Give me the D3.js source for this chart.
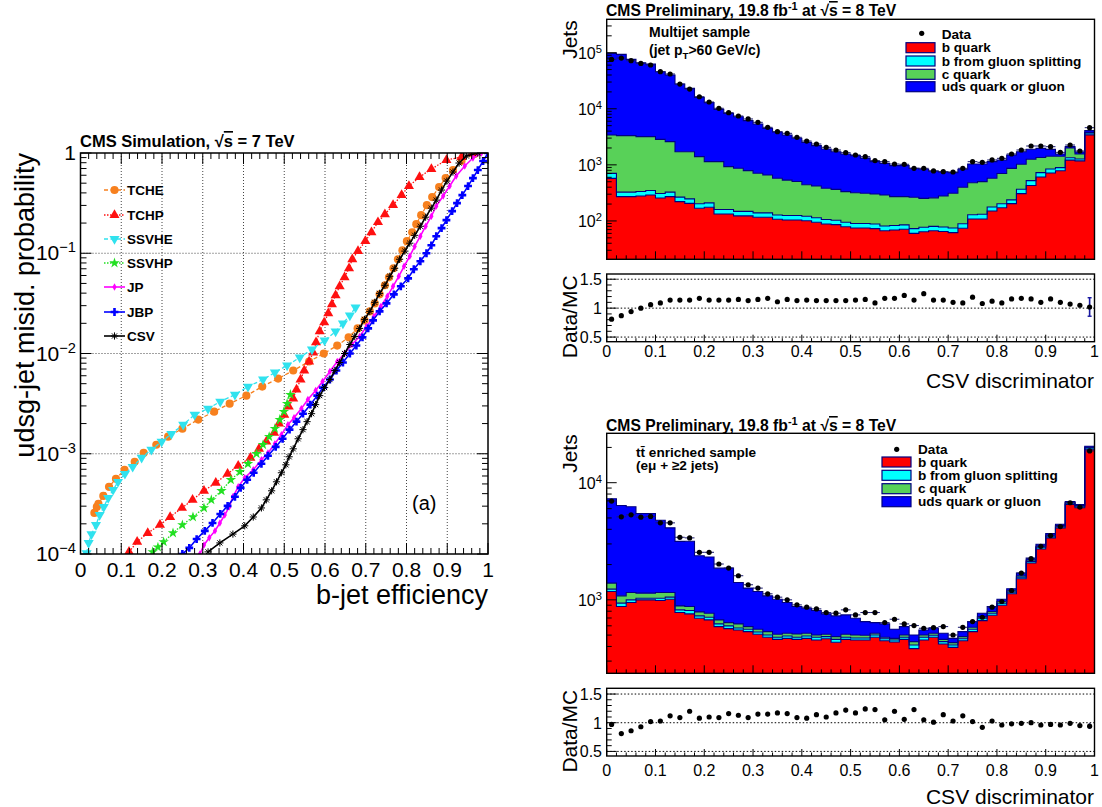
<!DOCTYPE html>
<html><head><meta charset="utf-8">
<script src="https://cdn.jsdelivr.net/npm/d3@7"></script>
<style>
body{margin:0;background:#fff}
svg{display:block}
text{font-family:"Liberation Sans",Arial,Helvetica,sans-serif;fill:#000}
</style>
</head><body>
<svg id="c" width="1102" height="807"></svg>
<script>
// ---------- (a) light-jet mistag probability vs b-jet efficiency ----------
const tcheEff = [0.034,0.040,0.044,0.056,0.070,0.087,0.108,0.133,0.155,0.186,0.215,0.250,0.289,0.328,0.366,0.407,0.446,0.485,0.522,0.561,0.597,0.630,0.658,0.680,0.697,0.710,0.722,0.734,0.747,0.757,0.768,0.779,0.790,0.801,0.814,0.824,0.836,0.850,0.863,0.880,0.896,0.914,0.935,0.967];
const tcheMis = [2.57e-4,2.95e-4,3.16e-4,3.80e-4,4.68e-4,5.62e-4,6.92e-4,8.32e-4,1.02e-3,1.23e-3,1.48e-3,1.78e-3,2.19e-3,2.63e-3,3.16e-3,3.80e-3,4.68e-3,5.62e-3,6.76e-3,8.32e-3,1.00e-2,1.20e-2,1.45e-2,1.78e-2,2.14e-2,2.63e-2,3.16e-2,3.89e-2,4.79e-2,5.75e-2,7.08e-2,8.71e-2,0.107,0.132,0.162,0.195,0.240,0.302,0.363,0.457,0.562,0.676,0.832,0.977];

const tchpEff = [0.119,0.139,0.165,0.195,0.220,0.249,0.275,0.303,0.332,0.361,0.387,0.417,0.438,0.456,0.475,0.487,0.500,0.511,0.522,0.530,0.540,0.549,0.561,0.571,0.578,0.587,0.598,0.608,0.617,0.626,0.636,0.648,0.659,0.667,0.681,0.699,0.714,0.730,0.747,0.767,0.788,0.806,0.832,0.861,0.898,0.935,0.963];
const tchpMis = [1.05e-4,1.32e-4,1.62e-4,1.95e-4,2.34e-4,2.88e-4,3.47e-4,4.27e-4,5.13e-4,6.31e-4,7.59e-4,9.12e-4,1.12e-3,1.32e-3,1.62e-3,2.00e-3,2.45e-3,2.95e-3,3.55e-3,4.37e-3,5.50e-3,6.76e-3,8.32e-3,1.02e-2,1.29e-2,1.66e-2,2.04e-2,2.51e-2,3.09e-2,3.80e-2,4.68e-2,5.75e-2,7.08e-2,8.71e-2,0.105,0.132,0.162,0.204,0.245,0.302,0.380,0.468,0.575,0.692,0.851,0.912,1.0];

const ssvheEff = [0.015,0.020,0.027,0.038,0.047,0.057,0.068,0.080,0.092,0.109,0.128,0.150,0.174,0.199,0.223,0.252,0.280,0.313,0.343,0.379,0.411,0.448,0.477,0.507,0.538,0.568,0.599,0.626,0.644,0.661,0.675];
const ssvheMis = [1.02e-4,1.29e-4,1.58e-4,1.95e-4,2.45e-4,2.95e-4,3.63e-4,4.37e-4,5.25e-4,6.31e-4,7.41e-4,9.12e-4,1.10e-3,1.32e-3,1.58e-3,1.95e-3,2.45e-3,2.82e-3,3.31e-3,3.89e-3,4.68e-3,5.50e-3,6.46e-3,7.59e-3,9.12e-3,1.10e-2,1.35e-2,1.66e-2,2.00e-2,2.40e-2,2.88e-2];

const ssvhpEff = [0.177,0.190,0.204,0.227,0.250,0.276,0.303,0.321,0.346,0.369,0.391,0.411,0.432,0.448,0.463,0.477,0.489,0.499,0.507,0.515];
const ssvhpMis = [1.05e-4,1.17e-4,1.32e-4,1.62e-4,1.95e-4,2.34e-4,2.88e-4,3.47e-4,4.27e-4,5.50e-4,6.61e-4,7.94e-4,1.00e-3,1.23e-3,1.48e-3,1.78e-3,2.19e-3,2.63e-3,3.16e-3,3.89e-3];

const jpEff = [0.293,0.303,0.316,0.330,0.342,0.354,0.365,0.374,0.387,0.403,0.424,0.444,0.460,0.477,0.493,0.509,0.524,0.542,0.558,0.577,0.594,0.612,0.630,0.648,0.666,0.685,0.702,0.720,0.737,0.753,0.767,0.781,0.794,0.808,0.820,0.834,0.847,0.861,0.873,0.890,0.906,0.922,0.943,0.963,0.984];
const jpMis = [1.00e-4,1.23e-4,1.45e-4,1.70e-4,2.04e-4,2.45e-4,2.95e-4,3.72e-4,4.68e-4,5.75e-4,6.92e-4,8.71e-4,1.02e-3,1.26e-3,1.55e-3,1.95e-3,2.29e-3,2.82e-3,3.47e-3,4.27e-3,5.25e-3,6.61e-3,8.32e-3,1.00e-2,1.23e-2,1.48e-2,1.86e-2,2.34e-2,2.95e-2,3.72e-2,4.68e-2,5.89e-2,7.41e-2,9.33e-2,0.117,0.148,0.186,0.234,0.295,0.372,0.468,0.589,0.741,0.891,1.0];

const jbpEff = [0.250,0.267,0.285,0.305,0.324,0.343,0.361,0.379,0.393,0.409,0.425,0.444,0.460,0.479,0.496,0.513,0.530,0.546,0.564,0.581,0.595,0.612,0.628,0.644,0.661,0.677,0.692,0.706,0.718,0.734,0.751,0.769,0.786,0.804,0.818,0.834,0.849,0.861,0.873,0.886,0.898,0.912,0.924,0.937,0.951,0.963,0.975,0.988,1.0];
const jbpMis = [1.00e-4,1.15e-4,1.41e-4,1.70e-4,2.04e-4,2.51e-4,3.02e-4,3.72e-4,4.57e-4,5.50e-4,6.46e-4,7.94e-4,9.55e-4,1.17e-3,1.41e-3,1.74e-3,2.09e-3,2.51e-3,3.09e-3,3.80e-3,4.57e-3,5.50e-3,6.76e-3,8.13e-3,1.00e-2,1.20e-2,1.45e-2,1.78e-2,2.14e-2,2.63e-2,3.16e-2,3.89e-2,4.68e-2,5.62e-2,6.92e-2,8.32e-2,0.100,0.120,0.148,0.178,0.214,0.263,0.316,0.380,0.468,0.562,0.676,0.832,1.0];

const csvEff = [0.313,0.342,0.374,0.403,0.424,0.444,0.456,0.469,0.481,0.493,0.504,0.512,0.522,0.534,0.546,0.556,0.567,0.577,0.587,0.599,0.612,0.624,0.636,0.648,0.661,0.673,0.685,0.697,0.710,0.722,0.734,0.747,0.759,0.771,0.783,0.796,0.808,0.820,0.834,0.847,0.861,0.873,0.886,0.899,0.914,0.929,0.947,0.975];
const csvMis = [1.05e-4,1.29e-4,1.58e-4,1.91e-4,2.34e-4,2.88e-4,3.47e-4,4.27e-4,5.25e-4,6.46e-4,7.76e-4,9.33e-4,1.12e-3,1.41e-3,1.74e-3,2.09e-3,2.51e-3,3.09e-3,3.80e-3,4.57e-3,5.50e-3,6.76e-3,8.13e-3,1.00e-2,1.23e-2,1.48e-2,1.78e-2,2.19e-2,2.63e-2,3.24e-2,3.98e-2,4.79e-2,5.89e-2,7.08e-2,8.71e-2,0.105,0.126,0.151,0.186,0.229,0.282,0.339,0.427,0.525,0.646,0.794,0.933,1.0];

const taggerNames = ["TCHE","TCHP","SSVHE","SSVHP","JP","JBP","CSV"];
const effTicks = [0,0.1,0.2,0.3,0.4,0.5,0.6,0.7,0.8,0.9,1];
const misTickExp = [-4,-3,-2,-1,0];

// ---------- CSV discriminator distributions (50 bins of 0.02) ----------
const mjBQuark = [575,271,271,279,290,256,271,221,206,168,175,133,133,123,123,116,116,107,104,104,101,95,88,86,79,75,75,73,67,69,71,60,64,67,65,62,74,108,108,150,172,204,307,428,609,717,783,1215,1180,3430];
const mjBGluon = [130,55,55,56,58,52,55,45,41,34,35,27,27,25,25,23,23,21,21,21,20,19,18,17,16,15,15,15,14,14,14,13,13,13,13,13,15,21,24,27,30,33,60,95,117,128,108,125,90,290];
const mjCQuark = [2700,2990,2990,2850,2840,2540,2270,1450,1470,1200,930,980,770,720,640,570,520,450,410,380,320,305,276,263,238,229,221,215,209,188,186,191,176,178,200,236,310,350,370,400,500,630,660,735,630,575,530,660,290,30];
const mjUds = [93800,90000,72800,63100,59600,42950,37400,25900,21400,14600,11710,8630,7360,6360,5350,4640,3820,3280,2870,2470,2080,1780,1540,1350,1230,1140,1010,840,774,700,700,600,580,520,470,415,435,555,535,565,520,630,690,635,615,470,140,110,140,320];
const mjData = [76000,80300,72000,64500,60300,45800,41700,27600,22500,16400,13200,10200,8510,7430,6580,5730,4670,3910,3650,3100,2660,2355,2055,1840,1650,1500,1400,1190,1140,1035,1023,867,867,778,757,746,867,1140,1109,1222,1306,1563,1840,2168,2168,2110,1671,2259,1766,4603];
const mjRatio = [0.81,0.87,0.94,1.00,1.06,1.09,1.14,1.14,1.14,1.17,1.14,1.14,1.14,1.15,1.13,1.15,1.17,1.11,1.15,1.13,1.14,1.13,1.13,1.13,1.13,1.14,1.15,1.09,1.17,1.17,1.22,1.14,1.25,1.14,1.14,1.10,1.09,1.19,1.08,1.12,1.09,1.16,1.17,1.16,1.10,1.16,1.10,1.07,1.05,1.02];
const mjRatioErr = [0,0,0,0,0,0,0,0,0,0,0,0,0,0,0,0,0,0,0,0,0,0,0,0,0,0,0,0,0.02,0.03,0.03,0.03,0.03,0.03,0.03,0.03,0.03,0.03,0,0,0,0,0,0,0,0,0,0,0,0.16];

const ttBQuark = [1179,877,949,1000,1000,987,1013,779,759,697,674,591,568,553,535,508,479,460,469,460,469,454,466,434,460,454,454,479,448,437,460,383,454,479,420,393,448,535,665,739,900,1126,1514,2063,2718,3378,4115,6521,6105,19310];
const ttBGluon = [55,60,51,33,33,45,41,42,51,32,36,32,31,22,26,24,22,19,22,19,22,25,19,26,19,19,19,22,18,17,19,29,25,19,20,19,18,26,32,30,36,37,50,68,91,113,138,173,205,510];
const ttCQuark = [156,145,156,107,107,124,102,67,67,60,59,51,40,48,30,29,34,29,27,32,27,22,23,25,29,28,25,17,13,15,22,28,22,20,20,19,19,22,23,25,32,31,42,57,56,69,56,89,83,270];
const ttUds = [5900,5310,5070,4320,4320,3630,2960,2270,2290,1590,1550,1190,1230,785,668,618,547,505,431,366,330,309,251,244,236,196,154,121,144,92,90,61,52,54,58,38,50,69,49,83,45,49,87,88,116,119,114,135,128,400];
const ttData = [6970,5110,5320,5080,5150,4540,4540,3420,3380,2545,2545,2022,1868,1606,1345,1259,1126,1054,1000,906,865,837,779,769,821,744,779,779,639,683,623,603,572,579,591,501,583,652,710,865,968,1202,1693,2246,2865,3537,4224,6740,6186,18680];
const ttRatio = [0.97,0.81,0.86,0.93,1.02,1.03,1.12,1.09,1.20,1.08,1.10,1.09,1.16,1.13,1.09,1.15,1.15,1.17,1.16,1.09,1.08,1.14,1.10,1.17,1.22,1.17,1.24,1.23,1.05,1.20,1.06,1.23,1.05,1.01,1.14,1.03,1.12,1.02,0.92,1.03,0.96,0.98,0.99,1.00,0.96,0.97,0.96,0.99,0.95,0.94];
const ttRatioErr = [0.01,0.01,0.01,0.01,0.01,0.01,0.01,0.01,0.01,0.01,0.01,0.01,0.01,0.035,0.035,0.035,0.035,0.035,0.035,0.035,0.035,0.035,0.035,0.035,0.04,0.035,0.04,0.04,0.035,0.04,0.035,0.04,0.035,0.035,0.035,0.035,0.035,0.035,0.035,0.035,0.01,0.01,0.01,0.01,0.01,0.01,0.01,0.01,0.01,0.05];

const csvTicks = [0,0.1,0.2,0.3,0.4,0.5,0.6,0.7,0.8,0.9,1];
const ratioTicks = [0.5,1,1.5];
const legendLabels = ["Data","b quark","b from gluon splitting","c quark","uds quark or gluon"];

// ---------------------------------------------------------------
const svg = d3.select("#c");
const NAVY = "#000080";

// text with sub/superscript and overline pieces
function rich(g, x, y, parts, fs, attrs) {
  const t = g.append("text").attr("x", x).attr("y", y).attr("font-size", fs);
  if (attrs) for (const k in attrs) t.attr(k, attrs[k]);
  let shift = 0;
  parts.forEach(p => {
    const [s, kind] = Array.isArray(p) ? p : [p, "n"];
    let target = 0, size = fs;
    if (kind === "sup") { target = -fs * 0.38; size = fs * 0.7; }
    if (kind === "sub") { target = fs * 0.28; size = fs * 0.7; }
    const ts = t.append("tspan").attr("dy", target - shift).attr("font-size", size).text(s);
    if (kind === "ovl") ts.style("text-decoration", "overline");
    shift = target;
  });
  return t;
}

function tickLine(g, x1, y1, x2, y2, w) {
  g.append("line").attr("x1", x1).attr("y1", y1).attr("x2", x2).attr("y2", y2)
    .attr("stroke", "#000").attr("stroke-width", w || 1);
}

function logMinor(dom) {
  const out = [];
  const lo = Math.floor(Math.log10(dom[0])), hi = Math.ceil(Math.log10(dom[1]));
  for (let e = lo; e <= hi; e++) for (let k = 1; k < 10; k++) {
    const v = k * Math.pow(10, e);
    if (v >= dom[0] && v <= dom[1]) out.push({ v, major: k === 1 });
  }
  return out;
}

// ============ left panel ============
(function () {
  const X0 = 80.5, X1 = 488, Y0 = 153, Y1 = 554;
  const x = d3.scaleLinear().domain([0, 1]).range([X0, X1]);
  const y = d3.scaleLog().domain([1e-4, 1]).range([Y1, Y0]);
  const g = svg.append("g");

  svg.append("clipPath").attr("id", "clipL").append("rect")
    .attr("x", X0).attr("y", Y0).attr("width", X1 - X0).attr("height", Y1 - Y0);

  // grid
  effTicks.slice(1, -1).forEach(v => g.append("line")
    .attr("x1", x(v)).attr("x2", x(v)).attr("y1", Y0).attr("y2", Y1)
    .attr("stroke", "#444").attr("stroke-width", 1).attr("stroke-dasharray", "1,2"));
  misTickExp.slice(1, -1).forEach(e => g.append("line")
    .attr("x1", X0).attr("x2", X1).attr("y1", y(Math.pow(10, e))).attr("y2", y(Math.pow(10, e)))
    .attr("stroke", "#444").attr("stroke-width", 1).attr("stroke-dasharray", "1,2"));

  const taggers = [
    { eff: tcheEff, mis: tcheMis, color: "#f7801e", dash: "4,2.5", sym: "circle" },
    { eff: tchpEff, mis: tchpMis, color: "#ff1010", dash: "1.5,1.5", sym: "tri" },
    { eff: ssvheEff, mis: ssvheMis, color: "#30e2ee", dash: "4,2.5", sym: "trid" },
    { eff: ssvhpEff, mis: ssvhpMis, color: "#22e022", dash: "1.5,1.5", sym: "star" },
    { eff: jpEff, mis: jpMis, color: "#ff00ff", dash: null, sym: "diamond" },
    { eff: jbpEff, mis: jbpMis, color: "#0000ff", dash: null, sym: "plus" },
    { eff: csvEff, mis: csvMis, color: "#000000", dash: null, sym: "aster" }
  ];

  function marker(sel, sym, color) {
    if (sym === "aster") {
      const r = 3.6, d = r * 0.72;
      sel.append("path").attr("d", `M${-r},0L${r},0M0,${-r}L0,${r}M${-d},${-d}L${d},${d}M${-d},${d}L${d},${-d}`)
        .attr("stroke", color).attr("stroke-width", 1).attr("fill", "none");
      return;
    }
    const type = { circle: d3.symbolCircle, tri: d3.symbolTriangle, trid: d3.symbolTriangle,
      star: d3.symbolStar, diamond: d3.symbolDiamond, plus: d3.symbolCross }[sym];
    const size = { circle: 52, tri: 44, trid: 44, star: 34, diamond: 16, plus: 34 }[sym];
    const p = sel.append("path").attr("d", d3.symbol(type, size)()).attr("fill", color);
    if (sym === "trid") p.attr("transform", "rotate(180)");
  }

  const gc = g.append("g").attr("clip-path", "url(#clipL)");
  const line = d3.line().x(d => x(d[0])).y(d => y(d[1]));
  taggers.forEach(t => {
    const pts = t.eff.map((e, i) => [e, t.mis[i]]);
    gc.append("path").attr("d", line(pts)).attr("fill", "none").attr("stroke", t.color)
      .attr("stroke-width", t.dash ? 1.3 : 1.6).attr("stroke-dasharray", t.dash);
    pts.forEach(p => {
      const m = gc.append("g").attr("transform", `translate(${x(p[0])},${y(p[1])})`);
      marker(m, t.sym, t.color);
    });
  });

  // legend
  const rowsY = [190, 215, 239, 263, 287, 312, 336];
  taggers.forEach((t, i) => {
    const yy = rowsY[i];
    g.append("line").attr("x1", 104).attr("x2", 125).attr("y1", yy).attr("y2", yy)
      .attr("stroke", t.color).attr("stroke-width", t.dash ? 1.3 : 1.6).attr("stroke-dasharray", t.dash);
    marker(g.append("g").attr("transform", `translate(114.5,${yy})`), t.sym, t.color);
    g.append("text").attr("x", 127).attr("y", yy + 5).attr("font-size", 13.5)
      .attr("font-weight", "bold").text(taggerNames[i]);
  });

  // ticks on all four sides
  d3.range(0, 1.0001, 0.02).forEach(v => {
    const major = Math.abs(v * 10 - Math.round(v * 10)) < 1e-6;
    const L = major ? 11 : 6;
    tickLine(g, x(v), Y1, x(v), Y1 - L);
    tickLine(g, x(v), Y0, x(v), Y0 + L);
  });
  logMinor([1e-4, 1]).forEach(t => {
    const L = t.major ? 11 : 6;
    tickLine(g, X0, y(t.v), X0 + L, y(t.v));
    tickLine(g, X1, y(t.v), X1 - L, y(t.v));
  });
  g.append("rect").attr("x", X0).attr("y", Y0).attr("width", X1 - X0).attr("height", Y1 - Y0)
    .attr("fill", "none").attr("stroke", "#000").attr("stroke-width", 1.5);

  // labels
  effTicks.forEach(v => g.append("text").attr("x", x(v)).attr("y", 577).attr("font-size", 21)
    .attr("text-anchor", "middle").text(v === 0 ? "0" : v === 1 ? "1" : d3.format(".1f")(v)));
  misTickExp.forEach(e => {
    const yy = y(Math.pow(10, e)) + 7;
    if (e === 0) g.append("text").attr("x", 76).attr("y", yy).attr("font-size", 21).attr("text-anchor", "end").text("1");
    else rich(g, 76, yy, ["10", [String(e).replace("-", "\u2212"), "sup"]], 21, { "text-anchor": "end" });
  });
  g.append("text").attr("x", 488).attr("y", 604).attr("font-size", 27).attr("text-anchor", "end").text("b-jet efficiency");
  g.append("text").attr("transform", "translate(34,153) rotate(-90)").attr("font-size", 27)
    .attr("text-anchor", "end").text("udsg-jet misid. probability");
  g.append("text").attr("x", 412).attr("y", 510).attr("font-size", 20).text("(a)");
  rich(g, 80, 147, ["CMS Simulation, \u221A", ["s", "ovl"], " = 7 TeV"], 16.5, { "font-weight": "bold" });
})();

// ============ right panels ============
const XR0 = 606.7, XR1 = 1094.5;
const binEdges = d3.range(51).map(i => +(i * 0.02).toFixed(2));
const fillColors = ["#ff0000", "#00ffff", "#58d158", "#0000ff"];

function histPanel(o) {
  const x = d3.scaleLinear().domain([0, 1]).range([XR0, XR1]);
  const y = d3.scaleLog().domain(o.yDomain).range([o.bottom, o.top]);
  const g = svg.append("g");
  svg.append("clipPath").attr("id", o.id).append("rect")
    .attr("x", XR0).attr("y", o.top).attr("width", XR1 - XR0).attr("height", o.bottom - o.top);
  const gc = g.append("g").attr("clip-path", `url(#${o.id})`);

  const keys = ["b", "bg", "c", "uds"];
  const rows = o.comps[0].map((_, i) => { const r = {}; keys.forEach((k, j) => r[k] = o.comps[j][i]); return r; });
  const stacked = d3.stack().keys(keys)(rows);
  const floor = o.yDomain[0] * 0.5;
  const stepPts = s => {
    const pts = s.map((d, i) => ({ x: binEdges[i], y0: d[0], y1: d[1] }));
    const last = s[s.length - 1];
    pts.push({ x: 1, y0: last[0], y1: last[1] });
    return pts;
  };
  const area = d3.area().curve(d3.curveStepAfter).x(p => x(p.x))
    .y0(p => y(Math.max(p.y0, floor))).y1(p => y(Math.max(p.y1, floor)));
  const top = d3.line().curve(d3.curveStepAfter).x(p => x(p.x)).y(p => y(Math.max(p.y1, floor)));
  stacked.forEach((s, j) => gc.append("path").attr("d", area(stepPts(s))).attr("fill", fillColors[j]));
  stacked.forEach(s => gc.append("path").attr("d", top(stepPts(s))).attr("fill", "none")
    .attr("stroke", NAVY).attr("stroke-width", 1.1));

  // data points with bin-width bars
  o.data.forEach((v, i) => {
    const cy = y(v);
    gc.append("line").attr("x1", x(binEdges[i])).attr("x2", x(binEdges[i + 1])).attr("y1", cy).attr("y2", cy)
      .attr("stroke", "#1a1a70").attr("stroke-width", 1);
    gc.append("circle").attr("cx", x(binEdges[i] + 0.01)).attr("cy", cy).attr("r", 2.6).attr("fill", "#000");
  });

  // ticks
  d3.range(0, 1.0001, 0.02).forEach(v => {
    const major = Math.abs(v * 10 - Math.round(v * 10)) < 1e-6;
    tickLine(g, x(v), o.bottom, x(v), o.bottom - (major ? 8 : 4));
  });
  logMinor(o.yDomain).forEach(t => tickLine(g, XR0, y(t.v), XR0 + (t.major ? 10 : 5), y(t.v)));
  g.append("rect").attr("x", XR0).attr("y", o.top).attr("width", XR1 - XR0).attr("height", o.bottom - o.top)
    .attr("fill", "none").attr("stroke", "#000").attr("stroke-width", 1.4);

  o.yLabels.forEach(e => rich(g, 602, y(Math.pow(10, e)) + 6, ["10", [String(e), "sup"]], 16, { "text-anchor": "end" }));
  g.append("text").attr("transform", `translate(577,${o.top + 1}) rotate(-90)`).attr("font-size", 21)
    .attr("text-anchor", "end").text("Jets");
  rich(g, 606, o.titleY, ["CMS Preliminary, 19.8 fb", ["-1", "sup"], " at \u221A", ["s", "ovl"], " = 8 TeV"], 15.7,
    { "font-weight": "bold" });

  // sample description
  o.sample(g);

  // legend
  const L = o.legend;
  g.append("circle").attr("cx", L.dotX).attr("cy", L.dotY).attr("r", 2.6).attr("fill", "#000");
  g.append("text").attr("x", L.textX).attr("y", L.dataBase).attr("font-size", 13.6).attr("font-weight", "bold").text(legendLabels[0]);
  L.boxes.forEach((cy, j) => {
    g.append("rect").attr("x", L.boxX).attr("y", cy - 5).attr("width", 29).attr("height", 10)
      .attr("fill", fillColors[j]).attr("stroke", NAVY).attr("stroke-width", 1.2);
    g.append("text").attr("x", L.textX).attr("y", cy + 4.5).attr("font-size", 13.6).attr("font-weight", "bold")
      .text(legendLabels[j + 1]);
  });
}

function ratioPanel(o) {
  const x = d3.scaleLinear().domain([0, 1]).range([XR0, XR1]);
  const y = d3.scaleLinear().domain(o.yDomain).range([o.bottom, o.top]);
  const g = svg.append("g");
  ratioTicks.forEach(v => g.append("line").attr("x1", XR0).attr("x2", XR1).attr("y1", y(v)).attr("y2", y(v))
    .attr("stroke", "#000").attr("stroke-width", 1).attr("stroke-dasharray", "1.5,2"));
  o.ratio.forEach((r, i) => {
    const cx = x(binEdges[i] + 0.01), e = o.err[i];
    if (e > 0.015) g.append("line").attr("x1", cx).attr("x2", cx).attr("y1", y(r - e)).attr("y2", y(r + e))
      .attr("stroke", "#1a1aa0").attr("stroke-width", 1.6);
    if (e > 0.05) [r - e, r + e].forEach(v => g.append("line").attr("x1", cx - 2).attr("x2", cx + 2)
      .attr("y1", y(v)).attr("y2", y(v)).attr("stroke", "#1a1aa0").attr("stroke-width", 1.4));
    g.append("circle").attr("cx", cx).attr("cy", y(r)).attr("r", 2.6).attr("fill", "#000");
  });
  d3.range(0, 1.0001, 0.02).forEach(v => {
    const major = Math.abs(v * 10 - Math.round(v * 10)) < 1e-6;
    tickLine(g, x(v), o.bottom, x(v), o.bottom - (major ? 7 : 3.5));
  });
  d3.range(0.5, 1.5001, 0.1).forEach(v => {
    const major = Math.abs(v * 2 - Math.round(v * 2)) < 1e-6;
    tickLine(g, XR0, y(v), XR0 + (major ? 10 : 5), y(v));
  });
  g.append("rect").attr("x", XR0).attr("y", o.top).attr("width", XR1 - XR0).attr("height", o.bottom - o.top)
    .attr("fill", "none").attr("stroke", "#000").attr("stroke-width", 1.4);
  ratioTicks.forEach(v => g.append("text").attr("x", 602).attr("y", y(v) + 6).attr("font-size", 16)
    .attr("text-anchor", "end").text(String(v)));
  csvTicks.forEach(v => g.append("text").attr("x", x(v)).attr("y", o.labelY).attr("font-size", 16)
    .attr("text-anchor", "middle").text(v === 0 ? "0" : v === 1 ? "1" : d3.format(".1f")(v)));
  g.append("text").attr("x", 1094).attr("y", o.titleY).attr("font-size", 21).attr("text-anchor", "end").text("CSV discriminator");
  g.append("text").attr("transform", `translate(577,${(o.top + o.bottom) / 2 + 9}) rotate(-90)`).attr("font-size", 21)
    .attr("text-anchor", "middle").text("Data/MC");
}

// multijet sample
histPanel({
  id: "clipMJ", top: 19.3, bottom: 259.3, yDomain: [20.7, 3.94e5], yLabels: [2, 3, 4, 5], titleY: 16,
  comps: [mjBQuark, mjBGluon, mjCQuark, mjUds], data: mjData,
  sample: g => {
    g.append("text").attr("x", 649).attr("y", 37).attr("font-size", 14).attr("font-weight", "bold").text("Multijet sample");
    rich(g, 649, 55, ["(jet p", ["T", "sub"], ">60 GeV/c)"], 14, { "font-weight": "bold" });
  },
  legend: { dotX: 921.7, dotY: 33.3, textX: 941.7, dataBase: 38.5, boxX: 906, boxes: [47.7, 61, 74.3, 86.7] }
});
ratioPanel({ top: 274, bottom: 341.7, yDomain: [0.42, 1.59], ratio: mjRatio, err: mjRatioErr, labelY: 357, titleY: 388 });

// ttbar enriched sample
histPanel({
  id: "clipTT", top: 433.3, bottom: 673.3, yDomain: [236, 26400], yLabels: [3, 4], titleY: 431,
  comps: [ttBQuark, ttBGluon, ttCQuark, ttUds], data: ttData,
  sample: g => {
    g.append("text").attr("x", 636).attr("y", 456.5).attr("font-size", 13.6).attr("font-weight", "bold").text("t\u0074\u0304 enriched sample");
    g.append("text").attr("x", 636).attr("y", 470).attr("font-size", 13.6).attr("font-weight", "bold").text("(e\u03BC + \u22652 jets)");
  },
  legend: { dotX: 896.7, dotY: 449.3, textX: 918, dataBase: 454, boxX: 882, boxes: [462, 475.3, 488.7, 501.7] }
});
ratioPanel({ top: 688.3, bottom: 756, yDomain: [0.42, 1.6], ratio: ttRatio, err: ttRatioErr, labelY: 776, titleY: 804 });
</script>
</body></html>
